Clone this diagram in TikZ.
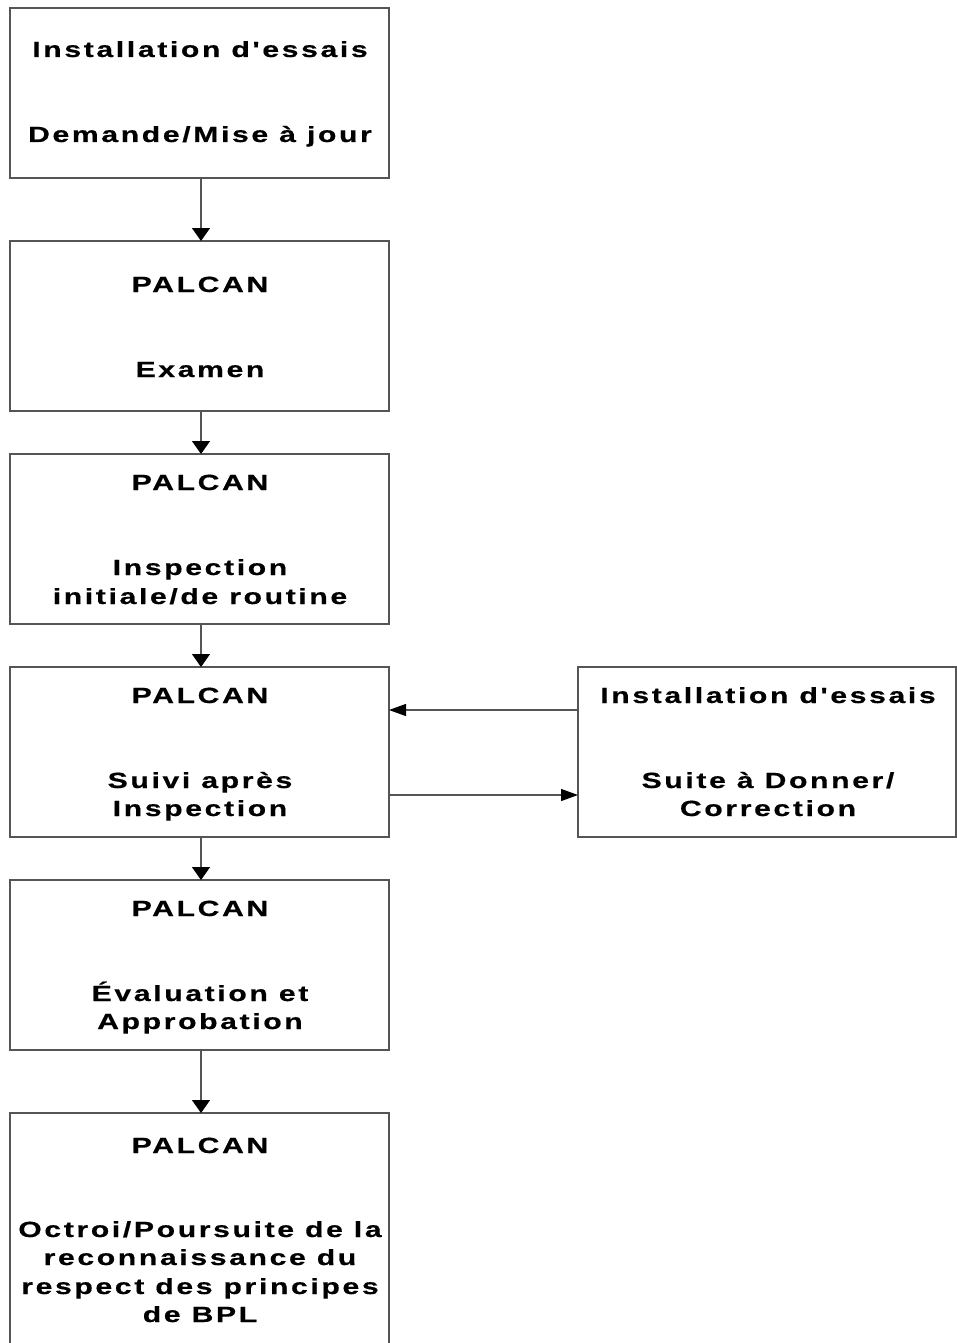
\documentclass[tikz,border=0pt]{standalone}
\usepackage{fontspec}
\newfontfamily\lblfont{Liberation Sans Bold}[FakeStretch=1.37,LetterSpace=12,FakeBold=0.5]
\usetikzlibrary{arrows.meta,calc}
\definecolor{boxgray}{HTML}{555555}
\begin{document}
\begin{tikzpicture}[x=1pt,y=-1pt,
  box/.style={draw=boxgray, line width=1.2pt, minimum width=379pt, minimum height=170pt, inner sep=0pt, outer sep=0pt, anchor=north west},
  lbl/.style={anchor=base, font=\lblfont\fontsize{22}{26}\selectfont, inner sep=0pt, text=black},
  vconn/.style={draw=boxgray, line width=1.2pt, -{Triangle[length=13pt,width=18pt,fill=black,color=black]}},
  hconn/.style={draw=boxgray, line width=1.2pt, -{Triangle[length=17pt,width=12pt,fill=black,color=black]}}]
\clip (0,0) rectangle (957,1343);
\useasboundingbox (0,0) rectangle (957,1343);
\node[box] (b1) at (10,8) {};
\node[box] (b2) at (10,241) {};
\node[box] (b3) at (10,454) {};
\node[box] (b4) at (10,667) {};
\node[box] (b5) at (10,880) {};
\node[box, minimum height=300pt] (b6) at (10,1113) {};
\node[box, minimum width=378pt] (r) at (578,667) {};
% texts
\node[lbl] (t11) at (200,57) {Installation d'essais};
\node[lbl] (t12) at (200,142) {Demande/Mise à jour};
\node[lbl] (t21) at (200,292) {PALCAN};
\node[lbl] (t22) at (200,377) {Examen};
\node[lbl] (t31) at (200,490) {PALCAN};
\node[lbl] (t32) at (200,575) {Inspection};
\node[lbl] (t33) at (200,604) {initiale/de routine};
\node[lbl] (t41) at (200,703) {PALCAN};
\node[lbl] (t42) at (200,788) {Suivi après};
\node[lbl] (t43) at (200,816) {Inspection};
\node[lbl] (t51) at (200,916) {PALCAN};
\node[lbl] (t52) at (200,1001) {Évaluation et};
\node[lbl] (t53) at (200,1029) {Approbation};
\node[lbl] (t61) at (200,1153) {PALCAN};
\node[lbl] (t62) at (200,1237) {Octroi/Poursuite de la};
\node[lbl] (t63) at (200,1265) {reconnaissance du};
\node[lbl] (t64) at (200,1294) {respect des principes};
\node[lbl] (t65) at (200,1322) {de BPL};
\node[lbl] (tr1) at (768,703) {Installation d'essais};
\node[lbl] (tr2) at (768,788) {Suite à Donner/};
\node[lbl] (tr3) at (768,816) {Correction};
% connectors
\draw[vconn] ($(b1.south west)+(191,0)$) -- ($(b2.north west)+(191,0)$);
\draw[vconn] ($(b2.south west)+(191,0)$) -- ($(b3.north west)+(191,0)$);
\draw[vconn] ($(b3.south west)+(191,0)$) -- ($(b4.north west)+(191,0)$);
\draw[vconn] ($(b4.south west)+(191,0)$) -- ($(b5.north west)+(191,0)$);
\draw[vconn] ($(b5.south west)+(191,0)$) -- ($(b6.north west)+(191,0)$);
\draw[hconn] ($(r.north west)+(0,43)$) -- ($(b4.north east)+(0,43)$);
\draw[hconn] ($(b4.north east)+(0,128)$) -- ($(r.north west)+(0,128)$);
\end{tikzpicture}
\end{document}
